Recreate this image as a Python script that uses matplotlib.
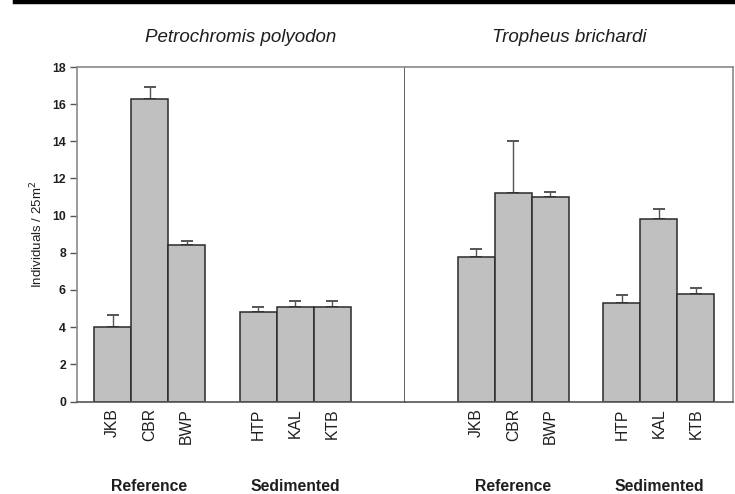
import matplotlib
matplotlib.use("Agg")
import matplotlib.pyplot as plt
from matplotlib.lines import Line2D
from matplotlib import font_manager

# Data
species = ["Petrochromis polyodon", "Tropheus brichardi"]
sites_ref = ["JKB", "CBR", "BWP"]
sites_sed = ["HTP", "KAL", "KTB"]
group_names = ["Reference", "Sedimented"]

polyodon_mean = [4.0, 16.3, 8.4, 4.8, 5.1, 5.1]
polyodon_se = [0.65, 0.65, 0.22, 0.3, 0.32, 0.32]
brichardi_mean = [7.8, 11.2, 11.0, 5.3, 9.8, 5.8]
brichardi_se = [0.42, 2.82, 0.3, 0.43, 0.57, 0.32]

y_ticks = [0, 2, 4, 6, 8, 10, 12, 14, 16, 18]

plt.rcParams["font.family"] = ["Liberation Sans", "DejaVu Sans"]

# condensed face for labels when available
names = {f.name for f in font_manager.fontManager.ttflist}
if "Liberation Sans Narrow" in names:
    narrow = ["Liberation Sans Narrow", "Liberation Sans"]
    k = 1.0
else:
    narrow = ["Liberation Sans", "DejaVu Sans"]
    k = 0.84

# Layout
W, H = 7.35, 4.94
fig = plt.figure(figsize=(W, H), dpi=100)

left, right = 77 / 735, 733 / 735
bottom, top = 1 - 401.5 / 494, 1 - 67 / 494
pw = (right - left) / 2
panel_width = 8.86
group_starts = [[0.96, 4.9], [1.93, 5.86]]
means = [polyodon_mean, brichardi_mean]
errs = [polyodon_se, brichardi_se]

frame_col = "#8a8a8a"
text_col = "#1e1e1e"

# thick rule across the top
fig.add_artist(Line2D([15 / 735, 1.0], [1 - 2 / 494, 1 - 2 / 494],
                      color="black", lw=3.2, transform=fig.transFigure))

sites = sites_ref + sites_sed
for p in range(2):
    ax = fig.add_axes([left + p * pw, bottom, pw, top - bottom])
    xs = []
    for s in group_starts[p]:
        xs += [s + i for i in range(3)]
    lo = [0] * len(means[p])
    ax.bar(xs, means[p], width=1.0, color="#c0c0c0", edgecolor="#2a2a2a",
           linewidth=1.1, zorder=2)
    ax.errorbar(xs, means[p], yerr=[lo, errs[p]], fmt="none",
                ecolor="#555555", elinewidth=1.0, capsize=4.5, capthick=1.4,
                zorder=1)
    ax.set_xlim(0, panel_width)
    ax.set_ylim(0, 18)
    ax.set_yticks(y_ticks)
    ax.set_xticks(xs)
    ax.set_xticklabels(sites, rotation=90, fontsize=13.5 * k, color=text_col,
                       family=narrow)
    ax.tick_params(axis="x", length=0, pad=5)
    for sp in ax.spines.values():
        sp.set_color(frame_col)
        sp.set_linewidth(1.2)
    ax.spines["bottom"].set_color("#555555")
    if p == 0:
        ax.tick_params(axis="y", direction="out", length=5, width=1.0,
                       color="#555555", labelsize=10.5 * k, labelcolor=text_col,
                       pad=3)
        for t in ax.get_yticklabels():
            t.set_family(narrow)
            t.set_fontweight("bold")
        ax.set_ylabel("Individuals / 25m$^2$", fontsize=11.5 * k, color=text_col,
                      labelpad=5, family=narrow)
        ax.spines["right"].set_color("#444444")
    else:
        ax.tick_params(axis="y", left=False, labelleft=False)
        ax.spines["left"].set_visible(False)
    ax.set_title(species[p], fontsize=13.5, style="italic", color=text_col,
                 pad=18)
    # group names under the site labels
    for g, s in enumerate(group_starts[p]):
        ax.text(s + 1, -0.255, group_names[g], transform=ax.get_xaxis_transform(),
                ha="center", va="center", fontsize=13.5 * k, fontweight="bold",
                color=text_col, family=narrow)

fig.savefig("out.png", dpi=100)
